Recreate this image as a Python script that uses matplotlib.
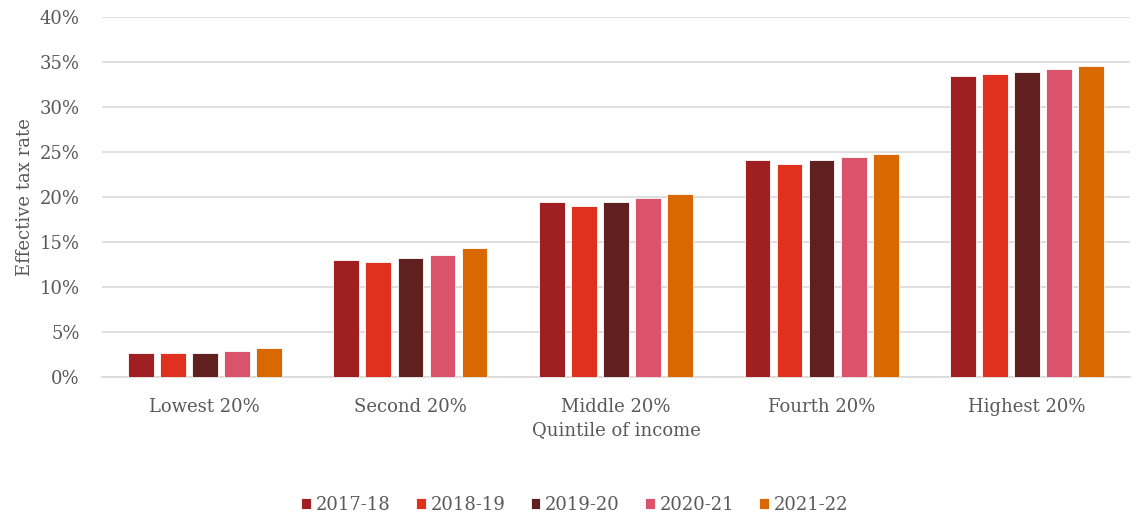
import numpy as np
import matplotlib.pyplot as plt
from matplotlib.ticker import PercentFormatter

# Effective tax rate by income quintile (%)
quintiles = ["Lowest 20%", "Second 20%", "Middle 20%", "Fourth 20%", "Highest 20%"]
years = ["2017-18", "2018-19", "2019-20", "2020-21", "2021-22"]
rate_2017_18 = [2.7, 13.0, 19.4, 24.1, 33.5]
rate_2018_19 = [2.7, 12.8, 19.0, 23.7, 33.7]
rate_2019_20 = [2.7, 13.2, 19.4, 24.1, 33.9]
rate_2020_21 = [2.9, 13.6, 19.9, 24.5, 34.2]
rate_2021_22 = [3.2, 14.3, 20.3, 24.8, 34.6]
colors = ["#A01F20", "#E0301E", "#602020", "#DB536A", "#D96800"]

series = [rate_2017_18, rate_2018_19, rate_2019_20, rate_2020_21, rate_2021_22]

plt.rcParams["font.family"] = ["DejaVu Serif"]
text_color = "#595959"

fig = plt.figure(figsize=(11.36, 5.15), dpi=100)
ax = fig.add_axes([102 / 1136, 1 - 377 / 515, 1028 / 1136, 360 / 515])

x = np.arange(len(quintiles))
pitch = 0.156
width = 0.125
for i, (vals, year, col) in enumerate(zip(series, years, colors)):
    offs = (i - 2) * pitch
    ax.bar(x + offs, vals, width=width, color=col, edgecolor="white",
           linewidth=0.6, label=year, zorder=3)

ax.set_xlim(-0.5, len(quintiles) - 0.5)
ax.set_ylim(0, 40)
ax.set_yticks(np.arange(0, 41, 5))
ax.yaxis.set_major_formatter(PercentFormatter(decimals=0))
ax.grid(axis="y", color="#D9D9D9", linewidth=1.2, zorder=0)
for s in ["top", "right", "left"]:
    ax.spines[s].set_visible(False)
ax.spines["bottom"].set_color("#D9D9D9")
ax.spines["bottom"].set_linewidth(1.2)

ax.set_xticks(x)
ax.set_xticklabels(quintiles)
ax.tick_params(axis="both", length=0, labelsize=13, colors=text_color)
ax.tick_params(axis="x", pad=15)
ax.tick_params(axis="y", pad=16)

ax.set_xlabel("Quintile of income", fontsize=13, color=text_color, labelpad=4)
ax.set_ylabel("Effective tax rate", fontsize=13, color=text_color, labelpad=4)

leg = ax.legend(loc="upper center", bbox_to_anchor=(0.46, -0.285), ncol=5,
                frameon=False, fontsize=13, handlelength=0.55, handleheight=0.55,
                handletextpad=0.25, columnspacing=1.4)
for t in leg.get_texts():
    t.set_color(text_color)

fig.savefig("out.png", dpi=100)
